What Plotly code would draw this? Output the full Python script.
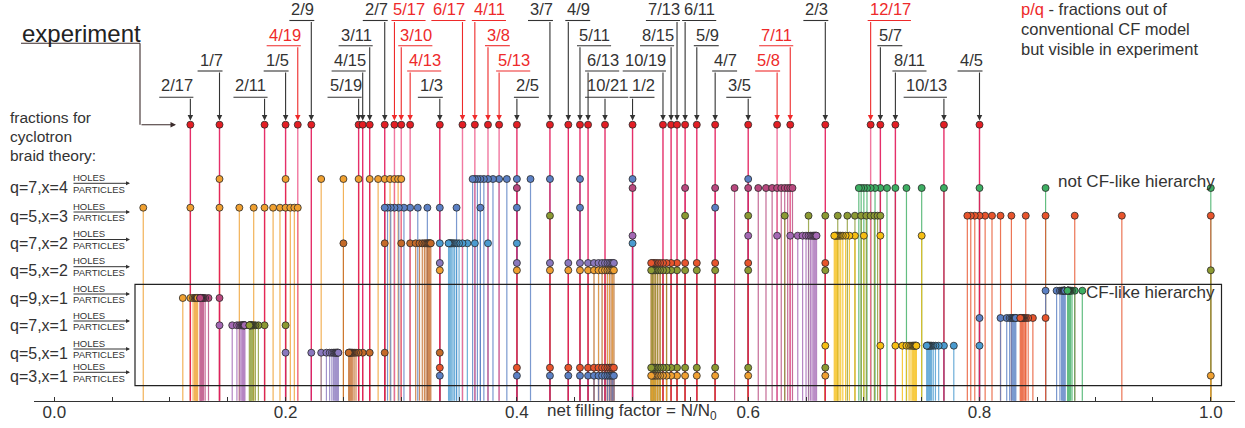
import plotly.graph_objects as go

W, H = 1245, 428
FONT = "Liberation Sans, Arial, sans-serif"
X0_PX, PX_PER_UNIT = 54.3, 1156.5
AXIS_Y = 400.7
EXP_Y = 124.7

# ------------------------------------------------------------------ data
experiment = ["2/17", "1/7", "2/11", "1/5", "4/19", "2/9", "5/19", "4/15", "3/11", "2/7",
              "5/17", "3/10", "4/13", "1/3", "6/17", "4/11", "3/8", "5/13", "2/5", "3/7",
              "4/9", "5/11", "6/13", "10/21", "1/2", "10/19", "8/15", "7/13", "6/11", "5/9",
              "4/7", "3/5", "5/8", "7/11", "2/3", "12/17", "5/7", "8/11", "10/13", "4/5"]
experiment_out_of_cf = ["4/19", "5/17", "3/10", "4/13", "6/17", "4/11", "3/8", "5/13",
                        "5/8", "7/11", "12/17"]

rows = ["q=7,x=4", "q=5,x=3", "q=7,x=2", "q=5,x=2", "q=9,x=1", "q=7,x=1", "q=5,x=1", "q=3,x=1"]

# q=7, x=4
q7x4_orange = ["1/7", "2/10", "3/13", "4/16", "5/19", "6/22", "7/25", "8/28", "9/31", "10/34", "11/37", "12/40"]
q7x4_blue = ["3/5", "4/8", "5/11", "6/14", "7/17", "8/20", "9/23", "10/26", "11/29", "12/32", "13/35",
             "14/38", "15/41", "16/44", "17/47"]
q7x4_mauve = ["2/5", "4/8", "6/11", "8/14", "10/17", "12/20", "14/23", "16/26", "18/29", "20/32", "22/35",
              "24/38", "26/41", "28/44", "30/47"]
q7x4_green = ["4/4", "6/7", "8/10", "10/13", "12/16", "14/19", "16/22", "18/25", "20/28", "22/31", "24/34",
              "26/37", "28/40", "30/43", "32/46"]
# q=5, x=3
q5x3_orange = ["1/13", "2/17", "3/21", "4/25", "5/29", "6/33", "7/37", "8/41", "9/45", "10/49", "11/53", "12/57"]
q5x3_blue = ["4/7", "5/11", "6/15", "7/19", "8/23", "9/27", "10/31", "11/35", "12/39", "13/43", "14/47",
             "15/51", "16/55", "17/59", "18/63"]
q5x3_olive = ["3/7", "6/11", "9/15", "12/19", "15/23", "18/27", "21/31", "24/35", "27/39", "30/43", "33/47",
              "36/51", "39/55", "42/59", "45/63"]
q5x3_red = ["9/9", "12/13", "15/17", "18/21", "21/25", "24/29", "27/33", "30/37", "33/41", "36/45", "39/49",
            "42/53", "45/57"]
# q=7, x=2
q7x2_brown = ["1/4", "2/7", "3/10", "4/13", "5/16", "6/19", "7/22", "8/25", "9/28", "10/31", "11/34",
              "12/37", "13/40", "14/43"]
q7x2_blue = ["1/2", "2/5", "3/8", "4/11", "5/14", "6/17", "7/20", "8/23", "9/26", "10/29", "11/32",
             "12/35", "13/38", "14/41", "15/44", "1/3"]
q7x2_purple = ["1/2", "3/5", "5/8", "7/11", "9/14", "11/17", "13/20", "15/23", "17/26", "19/29", "21/32",
               "23/35", "25/38", "27/41", "29/44"]
q7x2_yellow = ["3/4", "5/7", "7/10", "9/13", "11/16", "13/19", "15/22", "17/25", "19/28", "21/31", "23/34",
               "25/37", "27/40", "29/43"]
# q=5, x=2
q5x2_holes_left = ["1/3", "2/5", "3/7", "4/9", "5/11", "6/13", "7/15", "8/17", "9/19", "10/21", "11/23",
                   "12/25", "13/27", "14/29", "15/31"]
q5x2_holes_right = ["2/3", "3/5", "4/7", "5/9", "6/11", "7/13", "8/15", "9/17", "10/19", "11/21", "12/23",
                    "13/25", "14/27", "15/29", "16/31"]
q5x2_particles_left = ["1/3", "2/5", "3/7", "4/9", "5/11", "6/13", "7/15", "8/17", "9/19", "10/21", "11/23",
                       "12/25", "13/27", "14/29", "15/31"]
q5x2_particles_right = ["1/1", "2/3", "3/5", "4/7", "5/9", "6/11", "7/13", "8/15", "9/17", "10/19", "11/21",
                        "12/23", "13/25", "14/27", "15/29", "16/31"]
# q=9, x=1
q9x1_orange = ["1/9", "2/17", "3/25", "4/33", "5/41", "6/49", "7/57", "8/65", "9/73", "10/81", "11/89",
               "12/97", "13/105", "14/113"]
q9x1_mauve = ["1/7", "2/15", "3/23", "4/31", "5/39", "6/47", "7/55", "8/63", "9/71", "10/79", "11/87",
              "12/95", "13/103", "14/111"]
q9x1_blue = ["6/7", "13/15", "20/23", "27/31", "34/39", "41/47", "48/55", "55/63", "62/71", "69/79",
             "76/87", "83/95", "90/103", "97/111"]
q9x1_green = ["8/9", "15/17", "22/25", "29/33", "36/41", "43/49", "50/57", "57/65", "64/73", "71/81",
              "78/89", "85/97", "92/105", "99/113"]
# q=7, x=1
q7x1_purple = ["1/7", "2/13", "3/19", "4/25", "5/31", "6/37", "7/43", "8/49", "9/55", "10/61", "11/67",
               "12/73", "13/79", "14/85"]
q7x1_olive = ["1/5", "2/11", "3/17", "4/23", "5/29", "6/35", "7/41", "8/47", "9/53", "10/59", "11/65",
              "12/71", "13/77", "14/83"]
q7x1_blue = ["4/5", "9/11", "14/17", "19/23", "24/29", "29/35", "34/41", "39/47", "44/53", "49/59",
             "54/65", "59/71", "64/77", "69/83"]
q7x1_red = ["6/7", "11/13", "16/19", "21/25", "26/31", "31/37", "36/43", "41/49", "46/55", "51/61",
            "56/67", "61/73", "66/79", "71/85"]
# q=5, x=1
q5x1_purple = ["1/5", "2/9", "3/13", "4/17", "5/21", "6/25", "7/29", "8/33", "9/37", "10/41", "11/45",
               "12/49", "13/53", "14/57"]
q5x1_brown = ["1/3", "2/7", "3/11", "4/15", "5/19", "6/23", "7/27", "8/31", "9/35", "10/39", "11/43",
              "12/47", "13/51", "14/55"]
q5x1_yellow = ["2/3", "5/7", "8/11", "11/15", "14/19", "17/23", "20/27", "23/31", "26/35", "29/39",
               "32/43", "35/47", "38/51", "41/55"]
q5x1_lblue = ["4/5", "7/9", "10/13", "13/17", "16/21", "19/25", "22/29", "25/33", "28/37", "31/41",
              "34/45", "37/49", "40/53", "43/57"]
# q=3, x=1
q3x1_holes_left = ["1/3", "2/5", "3/7", "4/9", "5/11", "6/13", "7/15", "8/17", "9/19", "10/21", "11/23",
                   "12/25", "13/27", "14/29", "15/31"]
q3x1_particles_left = ["1/3", "2/5", "3/7", "4/9", "5/11", "6/13", "7/15", "8/17", "9/19", "10/21", "11/23",
                       "12/25", "13/27", "14/29", "15/31"]
q3x1_holes_right = ["2/3", "3/5", "4/7", "5/9", "6/11", "7/13", "8/15", "9/17", "10/19", "11/21", "12/23",
                    "13/25", "14/27", "15/29", "16/31"]
q3x1_particles_right = ["1/1", "2/3", "3/5", "4/7", "5/9", "6/11", "7/13", "8/15", "9/17", "10/19", "11/21",
                        "12/23", "13/25", "14/27", "15/29", "16/31"]

axis_ticks = [0.0, 0.05, 0.1, 0.15, 0.2, 0.25, 0.3, 0.35, 0.4, 0.45, 0.5, 0.55, 0.6, 0.65, 0.7, 0.75,
              0.8, 0.85, 0.9, 0.95, 1.0]
axis_tick_text = ["0.0", "", "", "", "0.2", "", "", "", "0.4", "", "", "", "0.6", "", "", "", "0.8",
                  "", "", "", "1.0"]

# ------------------------------------------------------------------ styles / layout
ORANGE, BLUE, MAUVE, GREEN = "#F0A030", "#5B80C4", "#B8487E", "#3DAE62"
OLIVE, REDOR, BROWN, LBLUE = "#8C9A32", "#E8542C", "#C46A28", "#4A9BD0"
PURPLE, YELLOW, LAV = "#A468B4", "#F6BE12", "#8A78BE"
EXP_DOT, EXP_LINE, EXP_LINE_RED = "#E31E24", "#E3195A", "#F06A96"
DARK, RED = "#333333", "#EE2A2A"

# row -> (arrow y, holes y, particles y)
ROW_Y = {
    "q=7,x=4": (183.3, 179.0, 188.0),
    "q=5,x=3": (212.0, 207.7, 215.7),
    "q=7,x=2": (239.5, 235.7, 243.3),
    "q=5,x=2": (266.7, 263.0, 270.3),
    "q=9,x=1": (294.0, 290.7, 298.0),
    "q=7,x=1": (321.0, 318.0, 325.3),
    "q=5,x=1": (349.0, 345.7, 352.7),
    "q=3,x=1": (372.3, 367.7, 375.7),
}

SERIES = [
    (q7x4_orange, "q=7,x=4", 1, ORANGE), (q7x4_blue, "q=7,x=4", 1, BLUE),
    (q7x4_mauve, "q=7,x=4", 2, MAUVE), (q7x4_green, "q=7,x=4", 2, GREEN),
    (q5x3_orange, "q=5,x=3", 1, ORANGE), (q5x3_blue, "q=5,x=3", 1, BLUE),
    (q5x3_olive, "q=5,x=3", 2, OLIVE), (q5x3_red, "q=5,x=3", 2, REDOR),
    (q7x2_brown, "q=7,x=2", 2, BROWN), (q7x2_blue, "q=7,x=2", 2, LBLUE),
    (q7x2_purple, "q=7,x=2", 1, PURPLE), (q7x2_yellow, "q=7,x=2", 1, YELLOW),
    (q5x2_holes_left, "q=5,x=2", 1, LAV), (q5x2_holes_right, "q=5,x=2", 1, REDOR),
    (q5x2_particles_left, "q=5,x=2", 2, ORANGE), (q5x2_particles_right, "q=5,x=2", 2, OLIVE),
    (q9x1_orange, "q=9,x=1", 2, ORANGE), (q9x1_mauve, "q=9,x=1", 2, MAUVE),
    (q9x1_blue, "q=9,x=1", 1, BLUE), (q9x1_green, "q=9,x=1", 1, GREEN),
    (q7x1_purple, "q=7,x=1", 2, PURPLE), (q7x1_olive, "q=7,x=1", 2, OLIVE),
    (q7x1_blue, "q=7,x=1", 1, BLUE), (q7x1_red, "q=7,x=1", 1, REDOR),
    (q5x1_purple, "q=5,x=1", 2, LAV), (q5x1_brown, "q=5,x=1", 2, BROWN),
    (q5x1_yellow, "q=5,x=1", 1, YELLOW), (q5x1_lblue, "q=5,x=1", 1, LBLUE),
    (q3x1_holes_left, "q=3,x=1", 1, REDOR), (q3x1_particles_left, "q=3,x=1", 2, BLUE),
    (q3x1_holes_right, "q=3,x=1", 1, OLIVE), (q3x1_particles_right, "q=3,x=1", 2, ORANGE),
]

# label text row (0 = top) and side of the text relative to the marked fraction
LABEL_POS = {
    "2/17": (3, "L"), "1/7": (2, "L"), "2/11": (3, "L"), "1/5": (2, "L"), "4/19": (1, "L"),
    "2/9": (0, "L"), "5/19": (3, "L"), "4/15": (2, "L"), "3/11": (1, "L"), "2/7": (0, "L"),
    "5/17": (0, "R"), "3/10": (1, "R"), "4/13": (2, "R"), "1/3": (3, "L"), "6/17": (0, "L"),
    "4/11": (0, "R"), "3/8": (1, "R"), "5/13": (2, "R"), "2/5": (3, "R"), "3/7": (0, "L"),
    "4/9": (0, "R"), "5/11": (1, "R"), "6/13": (2, "R"), "10/21": (3, "R"), "1/2": (3, "R"),
    "10/19": (2, "L"), "8/15": (1, "L"), "7/13": (0, "L"), "6/11": (0, "R"), "5/9": (1, "R"),
    "4/7": (2, "R"), "3/5": (3, "L"), "5/8": (2, "L"), "7/11": (1, "L"), "2/3": (0, "L"),
    "12/17": (0, "R"), "5/7": (1, "R"), "8/11": (2, "R"), "10/13": (3, "L"), "4/5": (2, "L"),
}
LABEL_SHIFT = {"10/21": -17}
LEVEL_TEXT_Y = [9.0, 35.0, 60.0, 85.0]
LEVEL_LINE_Y = [20.5, 45.7, 71.0, 97.3]
LABEL_FONT = 16.5


def frac(s):
    a, b = s.split("/")
    return int(a) / int(b)


def xd(px):
    return (px - X0_PX) / PX_PER_UNIT


def xp(v):
    return X0_PX + v * PX_PER_UNIT


def text_w(s, size):
    return sum(0.556 if c.isdigit() else 0.278 for c in s) * size


fig = go.Figure()

# theory drop lines
for vals, row, lvl, col in SERIES:
    y = ROW_Y[row][lvl]
    xs, ys = [], []
    for s in vals:
        v = frac(s)
        xs += [v, v, None]
        ys += [y, AXIS_Y, None]
    fig.add_trace(go.Scatter(x=xs, y=ys, mode="lines", line=dict(color=col, width=1.2),
                             opacity=0.8, hoverinfo="skip", showlegend=False))

# experiment drop lines
for group, col in ((False, EXP_LINE), (True, EXP_LINE_RED)):
    xs, ys = [], []
    for s in experiment:
        if (s in experiment_out_of_cf) == group:
            v = frac(s)
            xs += [v, v, None]
            ys += [EXP_Y, AXIS_Y, None]
    fig.add_trace(go.Scatter(x=xs, y=ys, mode="lines", line=dict(color=col, width=1.4),
                             opacity=0.9, hoverinfo="skip", showlegend=False))

# theory dots
for vals, row, lvl, col in SERIES:
    y = ROW_Y[row][lvl]
    fig.add_trace(go.Scatter(x=[frac(s) for s in vals], y=[y] * len(vals), mode="markers",
                             marker=dict(size=7, color=col, line=dict(color="#2a2a2a", width=0.8)),
                             hoverinfo="skip", showlegend=False))

# experiment dots
fig.add_trace(go.Scatter(x=[frac(s) for s in experiment], y=[EXP_Y] * len(experiment), mode="markers",
                         marker=dict(size=7, color=EXP_DOT, line=dict(color="#2a2a2a", width=0.8)),
                         hoverinfo="skip", showlegend=False))

annotations = []
shapes = []

# fraction labels with leader arrows
for s in experiment:
    lvl, side = LABEL_POS[s]
    col = RED if s in experiment_out_of_cf else DARK
    v = frac(s)
    dpx = xp(v)
    tw = text_w(s, LABEL_FONT)
    shift = LABEL_SHIFT.get(s, 0)
    if side == "L":
        right = dpx + 2 + shift
        left = right - tw
    else:
        left = dpx - 2 + shift
        right = left + tw
    annotations.append(dict(x=xd(left), y=LEVEL_TEXT_Y[lvl], xref="x", yref="y", text=s,
                            showarrow=False, xanchor="left", yanchor="middle", borderpad=0,
                            font=dict(family=FONT, size=LABEL_FONT, color=col)))
    shapes.append(dict(type="line", xref="x", yref="y",
                       x0=xd(min(left, dpx) - 1), x1=xd(max(right, dpx) + 1),
                       y0=LEVEL_LINE_Y[lvl], y1=LEVEL_LINE_Y[lvl], line=dict(color=col, width=1.1)))
    annotations.append(dict(x=v, y=120.6, xref="x", yref="y", ax=v, ay=LEVEL_LINE_Y[lvl],
                            axref="x", ayref="y", text="", showarrow=True, arrowhead=2,
                            arrowsize=1, arrowwidth=1.1, arrowcolor=col))

# "experiment" title with connector
annotations.append(dict(x=21 / W, y=33.5, xref="paper", yref="y", text="experiment", showarrow=False,
                        xanchor="left", yanchor="middle", borderpad=0,
                        font=dict(family=FONT, size=24, color="#222")))
shapes.append(dict(type="line", xref="paper", yref="y", x0=21 / W, x1=140 / W, y0=43.3, y1=43.3,
                   line=dict(color="#3b2b2b", width=1.1)))
shapes.append(dict(type="line", xref="paper", yref="y", x0=140 / W, x1=140 / W, y0=43.3, y1=124.7,
                   line=dict(color="#3b2b2b", width=1.1)))
annotations.append(dict(x=176 / W, y=124.7, xref="paper", yref="y", ax=-36, ay=0, text="",
                        showarrow=True, arrowhead=2, arrowsize=1, arrowwidth=1.1, arrowcolor="#3b2b2b"))

# left text block
for txt, yy in (("fractions for", 117.5), ("cyclotron", 136.8), ("braid theory:", 155.8)):
    annotations.append(dict(x=9 / W, y=yy, xref="paper", yref="y", text=txt, showarrow=False,
                            xanchor="left", yanchor="middle", borderpad=0,
                            font=dict(family=FONT, size=15.5, color=DARK)))

# row labels
for r in rows:
    ya = ROW_Y[r][0]
    annotations.append(dict(x=9 / W, y=ya + 4, xref="paper", yref="y", text=r, showarrow=False,
                            xanchor="left", yanchor="middle", borderpad=0,
                            font=dict(family=FONT, size=16, color=DARK)))
    annotations.append(dict(x=72 / W, y=ya - 6, xref="paper", yref="y", text="HOLES", showarrow=False,
                            xanchor="left", yanchor="middle", borderpad=0,
                            font=dict(family=FONT, size=9.5, color=DARK)))
    annotations.append(dict(x=72 / W, y=ya + 5.8, xref="paper", yref="y", text="PARTICLES",
                            showarrow=False, xanchor="left", yanchor="middle", borderpad=0,
                            font=dict(family=FONT, size=9.5, color=DARK)))
    annotations.append(dict(x=130 / W, y=ya, xref="paper", yref="y", ax=-58, ay=0, text="",
                            showarrow=True, arrowhead=2, arrowsize=0.8, arrowwidth=1,
                            arrowcolor=DARK))

# hierarchy box and texts
shapes.append(dict(type="rect", xref="x", yref="y", x0=xd(135), x1=xd(1221.5), y0=284.3, y1=385.7,
                   line=dict(color="#222", width=1.2), layer="above"))
annotations.append(dict(x=1216 / W, y=181.2, xref="paper", yref="y", text="not CF-like hierarchy",
                        showarrow=False, xanchor="right", yanchor="middle", borderpad=0,
                        font=dict(family=FONT, size=17, color=DARK)))
annotations.append(dict(x=1216 / W, y=292.0, xref="paper", yref="y", text="CF-like hierarchy",
                        showarrow=False, xanchor="right", yanchor="middle", borderpad=0,
                        font=dict(family=FONT, size=17, color=DARK)))

# top-right legend note
for txt, yy in ((f"<span style='color:{RED}'>p/q</span> - fractions out of", 8.5),
                ("conventional CF model", 28.8), ("but visible in experiment", 49.0)):
    annotations.append(dict(x=1020 / W, y=yy, xref="paper", yref="y", text=txt, showarrow=False,
                            xanchor="left", yanchor="middle", borderpad=0,
                            font=dict(family=FONT, size=16.5, color=DARK)))

# axis title
annotations.append(dict(x=546 / W, y=411.5, xref="paper", yref="y", text="net filling factor = N/N<sub>0</sub>",
                        showarrow=False, xanchor="left", yanchor="middle", borderpad=0,
                        font=dict(family=FONT, size=17, color=DARK)))

fig.update_layout(
    width=W, height=H, margin=dict(l=0, r=0, t=0, b=0),
    paper_bgcolor="white", plot_bgcolor="white",
    xaxis=dict(domain=[34 / W, 1235 / W], range=[xd(34), xd(1235)], anchor="free",
               position=(H - AXIS_Y) / H, showline=True, linecolor=DARK, linewidth=1.4,
               ticks="inside", ticklen=4, tickwidth=1, tickcolor=DARK,
               tickmode="array", tickvals=axis_ticks, ticktext=axis_tick_text,
               tickfont=dict(family=FONT, size=17, color=DARK), ticklabelstandoff=-4,
               showgrid=False, zeroline=False, fixedrange=True),
    yaxis=dict(domain=[0, 1], range=[H, 0], visible=False, showgrid=False, zeroline=False,
               fixedrange=True),
    annotations=annotations, shapes=shapes, showlegend=False,
)

fig.write_html("out.html")
